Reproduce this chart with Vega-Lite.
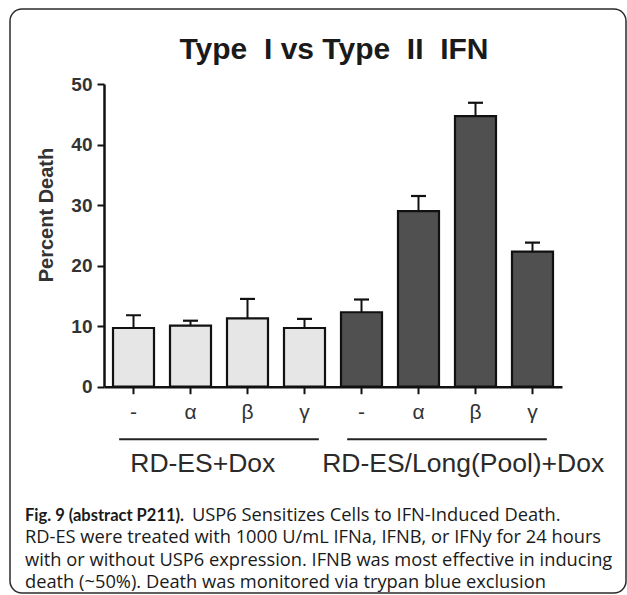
{
  "$schema": "https://vega.github.io/schema/vega-lite/v6.json",
  "width": 616,
  "height": 584,
  "autosize": "none",
  "padding": {"left": 10, "top": 9, "right": 1, "bottom": 2},
  "background": "white",
  "config": {
    "view": {"stroke": "#2b2b2b", "strokeWidth": 1.5, "cornerRadius": 12},
    "font": "Liberation Sans"
  },
  "title": {
    "text": "Type\u00a0 I vs Type\u00a0 II\u00a0 IFN",
    "font": "Liberation Sans",
    "fontSize": 30,
    "fontWeight": "bold",
    "color": "#1a1a1a",
    "anchor": "middle",
    "frame": "group",
    "orient": "top",
    "offset": 0,
    "baseline": "alphabetic",
    "dx": 16,
    "dy": 80
  },
  "datasets": {
    "bars": [
      {"key": "RD-ES+Dox -", "group": "RD-ES+Dox", "value": 9.7, "upper": 11.8},
      {"key": "RD-ES+Dox α", "group": "RD-ES+Dox", "value": 10.1, "upper": 10.9},
      {"key": "RD-ES+Dox β", "group": "RD-ES+Dox", "value": 11.3, "upper": 14.5},
      {"key": "RD-ES+Dox γ", "group": "RD-ES+Dox", "value": 9.7, "upper": 11.2},
      {"key": "RD-ES/Long(Pool)+Dox -", "group": "RD-ES/Long(Pool)+Dox", "value": 12.3, "upper": 14.4},
      {"key": "RD-ES/Long(Pool)+Dox α", "group": "RD-ES/Long(Pool)+Dox", "value": 29.0, "upper": 31.5},
      {"key": "RD-ES/Long(Pool)+Dox β", "group": "RD-ES/Long(Pool)+Dox", "value": 44.7, "upper": 46.9},
      {"key": "RD-ES/Long(Pool)+Dox γ", "group": "RD-ES/Long(Pool)+Dox", "value": 22.3, "upper": 23.8}
    ],
    "groups": [
      {"group": "RD-ES+Dox", "first": "RD-ES+Dox -", "last": "RD-ES+Dox γ", "anchor": "RD-ES+Dox α"},
      {"group": "RD-ES/Long(Pool)+Dox", "first": "RD-ES/Long(Pool)+Dox -", "last": "RD-ES/Long(Pool)+Dox γ", "anchor": "RD-ES/Long(Pool)+Dox β"}
    ],
    "caption": [
      {"line": 1, "part": "label", "text": "Fig. 9 (abstract P211)."},
      {"line": 1, "part": "body", "text": "USP6 Sensitizes Cells to IFN-Induced Death."},
      {"line": 2, "part": "body", "text": "RD-ES were treated with 1000 U/mL IFNa, IFNB, or IFNy for 24 hours"},
      {"line": 3, "part": "body", "text": "with or without USP6 expression. IFNB was most effective in inducing"},
      {"line": 4, "part": "body", "text": "death (~50%). Death was monitored via trypan blue exclusion"}
    ]
  },
  "layer": [
    {
      "layer": [
        {
          "data": {"name": "bars"},
          "mark": {"type": "bar", "stroke": "#111111", "strokeWidth": 2.2},
          "encoding": {
            "x": {
              "field": "key",
              "type": "nominal",
              "sort": null,
              "scale": {
                "domain": ["RD-ES+Dox -", "RD-ES+Dox α", "RD-ES+Dox β", "RD-ES+Dox γ", "RD-ES/Long(Pool)+Dox -", "RD-ES/Long(Pool)+Dox α", "RD-ES/Long(Pool)+Dox β", "RD-ES/Long(Pool)+Dox γ"],
                "range": [94, 552],
                "paddingInner": 0.2807,
                "paddingOuter": 0.158
              },
              "axis": {
                "title": null,
                "orient": "bottom",
                "offset": -206.3,
                "labelExpr": "slice(datum.label, -1)",
                "labelAngle": 0,
                "labelFont": "Liberation Sans",
                "labelFontSize": 21,
                "labelColor": "#333333",
                "labelPadding": 8,
                "tickSize": 7,
                "tickWidth": 2,
                "tickColor": "#111111",
                "domainColor": "#111111",
                "domainWidth": 2.5,
                "grid": false
              }
            },
            "y": {
              "field": "value",
              "type": "quantitative",
              "scale": {"domain": [0, 50], "range": [377.7, 75], "nice": false, "zero": true},
              "axis": {
                "title": "Percent Death",
                "orient": "left",
                "offset": -94,
                "values": [0, 10, 20, 30, 40, 50],
                "labelFont": "Liberation Sans",
                "labelFontSize": 19,
                "labelFontWeight": "bold",
                "labelColor": "#333333",
                "labelPadding": 5,
                "tickSize": 7,
                "tickWidth": 2,
                "tickColor": "#111111",
                "domainColor": "#111111",
                "domainWidth": 2.5,
                "grid": false,
                "titleFont": "Liberation Sans",
                "titleFontSize": 20,
                "titleFontWeight": "bold",
                "titleColor": "#333333",
                "titleX": -58,
                "titleY": 205.5,
                "titleAngle": 270,
                "titleAlign": "center",
                "titleBaseline": "middle"
              }
            },
            "fill": {
              "field": "group",
              "type": "nominal",
              "scale": {"domain": ["RD-ES+Dox", "RD-ES/Long(Pool)+Dox"], "range": ["#e6e6e6", "#505050"]},
              "legend": null
            }
          }
        },
        {
          "data": {"name": "bars"},
          "mark": {"type": "rule", "stroke": "#111111", "strokeWidth": 2},
          "encoding": {
            "x": {"field": "key", "type": "nominal"},
            "y": {"field": "value", "type": "quantitative"},
            "y2": {"field": "upper"}
          }
        },
        {
          "data": {"name": "bars"},
          "mark": {"type": "tick", "color": "#111111", "size": 15, "thickness": 2.2, "opacity": 1},
          "encoding": {
            "x": {"field": "key", "type": "nominal"},
            "y": {"field": "upper", "type": "quantitative"}
          }
        },
        {
          "data": {"name": "groups"},
          "mark": {"type": "rule", "stroke": "#222222", "strokeWidth": 2},
          "encoding": {
            "x": {"field": "first", "type": "nominal", "bandPosition": 0.15},
            "x2": {"field": "last", "bandPosition": 0.85},
            "y": {"datum": -8.7}
          }
        },
        {
          "data": {"name": "groups"},
          "transform": [{"filter": "datum.group == 'RD-ES+Dox'"}],
          "mark": {"type": "text", "align": "center", "baseline": "middle", "font": "Liberation Sans", "fontSize": 26.5, "color": "#2a2a2a"},
          "encoding": {
            "x": {"field": "anchor", "type": "nominal", "bandPosition": 0.8},
            "y": {"datum": -12.77},
            "text": {"field": "group"}
          }
        },
        {
          "data": {"name": "groups"},
          "transform": [{"filter": "datum.group != 'RD-ES+Dox'"}],
          "mark": {"type": "text", "align": "center", "baseline": "middle", "font": "Liberation Sans", "fontSize": 26.5, "color": "#2a2a2a"},
          "encoding": {
            "x": {"field": "anchor", "type": "nominal", "bandPosition": 0.2},
            "y": {"datum": -12.77},
            "text": {"field": "group"}
          }
        }
      ]
    },
    {
      "data": {"name": "caption"},
      "encoding": {
        "x": {"datum": 0, "type": "quantitative", "scale": {"domain": [0, 1], "range": [15, 600]}, "axis": null},
        "y": {"field": "line", "type": "ordinal", "scale": {"type": "point", "domain": [1, 2, 3, 4], "range": [506.5, 574], "padding": 0}, "axis": null},
        "text": {"field": "text"}
      },
      "layer": [
        {
          "transform": [{"filter": "datum.part == 'label'"}],
          "mark": {"type": "text", "align": "left", "baseline": "middle", "font": "Lato", "fontSize": 16.5, "fontWeight": "bold", "color": "#1a1a1a"}
        },
        {
          "transform": [{"filter": "datum.part == 'body' && datum.line == 1"}],
          "mark": {"type": "text", "align": "left", "baseline": "middle", "font": "Open Sans", "fontSize": 18.3, "color": "#1a1a1a", "dx": 167}
        },
        {
          "transform": [{"filter": "datum.line > 1"}],
          "mark": {"type": "text", "align": "left", "baseline": "middle", "font": "Open Sans", "fontSize": 18.3, "color": "#1a1a1a"}
        }
      ]
    }
  ],
  "resolve": {"scale": {"x": "independent", "y": "independent"}}
}
